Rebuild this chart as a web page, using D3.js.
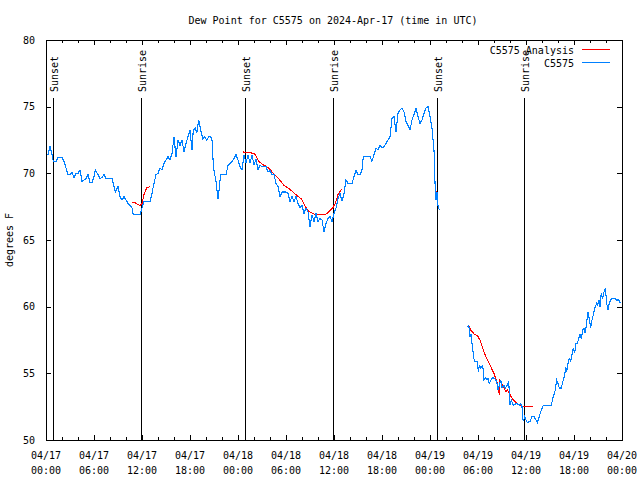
<!DOCTYPE html>
<html><head><meta charset="utf-8">
<script src="https://cdn.jsdelivr.net/npm/d3@7"></script>
<style>
html,body{margin:0;padding:0;background:#fff;}
text{font-family:"DejaVu Sans Mono",monospace;font-size:10px;fill:#000;}
</style></head>
<body><svg id="c" width="640" height="480"></svg>
<script>
// ---- data (hours since 2024-04-17 00:00 UTC) ----
const title = "Dew Point for C5575 on 2024-Apr-17 (time in UTC)";
const yLabel = "degrees F";
const seriesNames = ["C5575 Analysis", "C5575"];
const yTicks = [50, 55, 60, 65, 70, 75, 80];
const xTickHours = [0, 6, 12, 18, 24, 30, 36, 42, 48, 54, 60, 66, 72];
const xTickDates = ["04/17","04/17","04/17","04/17","04/18","04/18","04/18","04/18","04/19","04/19","04/19","04/19","04/20"];
const xTickTimes = ["00:00","06:00","12:00","18:00","00:00","06:00","12:00","18:00","00:00","06:00","12:00","18:00","00:00"];
const xMinorHours = [2,4,8,10,14,16,20,22,26,28,32,34,38,40,44,46,50,52,56,58,62,64,68,70];
const sunHours = [0.875, 11.875, 24.875, 35.92, 48.92, 59.79];
const sunLabels = ["Sunset","Sunrise","Sunset","Sunrise","Sunset","Sunrise"];

const obsHours = [0.25,0.5,0.75,0.91,1.25,1.5,2.0,2.25,2.5,2.75,3.0,3.25,3.5,3.75,4.0,4.25,4.5,4.75,5.0,5.25,5.5,5.75,6.0,6.16,6.5,6.75,7.0,7.25,7.5,8.25,8.5,8.66,9.0,9.25,9.5,9.75,10.0,10.25,10.5,10.75,10.91,11.75,12.0,12.25,13.0,13.25,13.41,13.75,14.0,14.25,14.5,14.75,15.0,15.25,15.5,15.75,16.0,16.25,16.5,16.75,17.0,17.25,17.5,17.75,18.0,18.25,18.41,18.66,18.84,19.09,19.34,19.59,19.84,20.09,20.34,20.59,20.75,20.88,21.0,21.25,21.5,21.69,21.81,22.5,22.75,23.0,23.25,23.5,23.75,24.0,24.25,24.5,24.75,25.0,25.25,25.5,25.75,26.0,26.25,26.5,26.75,27.0,27.5,27.75,28.0,28.25,28.5,28.75,29.0,29.25,29.5,30.0,30.25,30.5,30.75,31.0,31.25,31.5,31.75,32.0,32.25,32.5,32.75,33.0,33.25,33.5,33.75,34.0,34.25,34.5,34.75,35.0,35.25,35.5,35.75,36.0,36.25,36.5,36.75,37.0,37.25,37.5,37.75,38.25,38.5,38.75,39.0,39.25,39.5,39.66,40.5,40.75,41.0,41.25,41.5,41.75,42.0,42.25,42.5,42.75,43.0,43.25,43.5,43.75,44.0,44.25,44.5,44.75,45.0,45.25,45.5,45.75,46.0,46.25,46.5,46.75,47.0,47.25,47.5,47.75,48.0,48.25,48.5,48.63,48.75,48.88,49.0,49.16,
  50.5,
  52.71,52.84,53.0,53.13,53.25,53.41,53.54,53.91,54.04,54.16,54.34,54.59,54.75,54.91,55.13,55.25,55.41,55.63,55.84,56.09,56.34,56.5,56.66,56.84,57.0,57.25,57.41,57.66,57.84,58.0,58.16,58.41,58.84,59.16,59.34,59.5,59.59,59.66,59.84,60.0,60.16,60.5,60.75,61.0,61.25,61.41,61.66,61.91,62.16,63.16,63.34,63.5,63.66,63.84,64.0,64.16,64.41,64.66,64.84,64.96,65.09,65.25,65.41,65.59,65.75,65.91,66.09,66.25,66.41,66.59,66.75,66.91,67.09,67.25,67.41,67.59,67.75,67.91,68.09,68.25,68.41,68.59,68.84,68.91,69.16,69.25,69.41,69.59,69.75,69.91,70.09,70.25,70.41,70.66,71.16,71.34,71.59,71.75,71.88];
const obsValues = [71.4,72.05,71.4,70.9,70.9,71.2,71.2,70.9,70.4,69.9,69.9,70.1,69.65,70.0,70.0,70.25,69.4,69.5,69.6,69.9,69.3,69.3,69.75,70.25,69.9,69.6,69.7,69.9,69.6,69.6,69.0,68.6,69.0,68.25,68.0,68.25,68.0,67.75,67.6,67.4,66.9,66.9,67.4,67.9,67.9,68.5,69.0,69.9,70.0,70.4,70.25,70.75,71.0,71.25,71.0,71.5,72.75,71.25,72.5,72.1,72.5,71.6,72.25,72.75,73.25,71.75,73.25,73.4,73.0,74.0,73.25,72.6,72.75,72.5,72.75,72.75,72.5,71.0,70.2,69.4,68.1,69.0,69.9,69.9,70.6,70.75,70.9,71.1,71.4,71.0,70.5,70.25,71.4,70.75,71.4,70.75,71.4,70.6,71.1,70.25,70.6,70.5,70.5,70.1,70.2,69.9,69.9,69.25,69.0,68.25,68.6,68.6,68.5,67.9,68.25,67.9,68.25,67.75,67.4,67.6,67.0,67.4,67.1,66.0,66.9,66.4,67.0,66.4,66.6,66.5,65.6,66.25,66.6,66.75,66.4,67.0,67.4,68.1,68.5,67.9,68.5,69.5,69.25,69.25,69.75,70.25,69.9,69.9,70.25,71.25,71.25,70.9,71.4,71.9,71.75,72.1,71.9,72.0,72.25,72.5,72.75,74.1,74.25,73.1,74.5,74.75,74.9,74.6,73.9,73.6,73.25,74.0,74.4,74.9,74.25,73.75,74.0,74.5,74.9,75.0,74.25,73.4,71.75,69.25,68.0,68.6,67.6,67.25,
  null,
  58.5,58.6,57.75,57.9,57.25,56.5,55.9,55.9,55.1,55.6,55.4,55.6,54.5,54.7,54.5,54.6,54.25,54.5,54.7,54.6,54.4,53.75,54.1,54.5,53.9,54.1,53.9,54.1,54.4,52.6,53.0,52.6,52.75,52.6,52.75,52.5,51.75,51.4,51.75,51.5,51.3,51.4,51.75,51.75,51.5,51.3,51.75,52.25,52.6,52.6,53.1,53.4,53.75,54.5,54.25,53.9,53.9,54.5,54.9,55.5,55.1,55.75,56.1,55.9,56.4,56.9,56.5,57.25,57.25,57.6,57.9,57.6,58.25,58.4,58.0,58.9,59.6,59.1,58.4,59.0,59.4,59.9,60.25,60.1,60.5,60.0,61.0,60.6,61.1,61.4,60.25,59.75,60.25,60.6,60.6,60.5,60.5,60.3,60.3];

const anaHours = [10.75,11.13,11.34,11.75,12.0,12.25,12.59,13.0,
  13.5,
  24.66,26.0,26.25,26.59,27.0,27.84,28.41,29.09,29.75,30.59,31.25,31.96,32.41,32.84,33.66,34.91,35.34,35.84,36.16,36.5,36.91,
  40.0,
  48.84,48.91,
  50.0,
  52.84,53.09,53.59,53.91,54.25,54.66,55.09,55.59,56.0,56.34,56.59,56.66,56.75,57.16,57.5,57.66,58.0,58.41,58.84,59.5,59.84,60.91];
const anaValues = [67.8,67.8,67.7,67.6,67.75,68.4,68.9,69.0,
  null,
  71.6,71.5,71.3,70.9,70.7,70.4,70.0,69.6,69.1,68.75,68.4,68.05,67.5,67.15,66.9,66.9,67.1,67.4,67.75,68.4,68.8,
  null,
  68.7,68.5,
  null,
  58.55,58.25,57.9,57.85,57.5,56.75,56.1,55.5,55.0,54.4,53.75,53.4,54.5,54.0,53.6,53.75,53.4,53.0,52.75,52.55,52.5,52.5];

const colors = ["#ff0000", "#0080ff"];

// ---- drawing ----
const svg = d3.select("#c");
const L = 46, R = 622, T = 40, B = 440;
const x = d3.scaleLinear().domain([0, 72]).range([L, R]);
const y = d3.scaleLinear().domain([50, 80]).range([B, T]);

svg.append("rect").attr("width",640).attr("height",480).attr("fill","#fff");

svg.append("text").attr("x", 333).attr("y", 24).attr("text-anchor","middle").text(title);
svg.append("text").attr("transform","translate(13,240) rotate(-90)").attr("text-anchor","middle").text(yLabel);

function styleAxis(g){ g.select(".domain").remove(); g.selectAll("line").attr("stroke","#000").attr("shape-rendering","crispEdges"); }

// left/right y axes
svg.append("g").attr("transform",`translate(${L},0)`)
  .call(d3.axisLeft(y).tickValues(yTicks).tickSize(-5).tickPadding(11).tickFormat(d3.format("d")))
  .call(styleAxis).selectAll("text").style("font-family","DejaVu Sans Mono").style("font-size","10px");
svg.append("g").attr("transform",`translate(${R},0)`)
  .call(d3.axisRight(y).tickValues(yTicks).tickSize(-5).tickFormat(""))
  .call(styleAxis);
// bottom/top x axes major + minor
svg.append("g").attr("transform",`translate(0,${B})`)
  .call(d3.axisBottom(x).tickValues(xTickHours).tickSize(-5).tickFormat("")).call(styleAxis);
svg.append("g").attr("transform",`translate(0,${B})`)
  .call(d3.axisBottom(x).tickValues(xMinorHours).tickSize(-3).tickFormat("")).call(styleAxis);
svg.append("g").attr("transform",`translate(0,${T})`)
  .call(d3.axisTop(x).tickValues(xTickHours).tickSize(-5).tickFormat("")).call(styleAxis);
svg.append("g").attr("transform",`translate(0,${T})`)
  .call(d3.axisTop(x).tickValues(xMinorHours).tickSize(-3).tickFormat("")).call(styleAxis);

// x tick labels (two lines)
const xl = svg.append("g").selectAll("text").data(xTickHours).join("text")
  .attr("x", d => x(d)).attr("text-anchor","middle");
xl.append("tspan").attr("x", d => x(d)).attr("y", 459).text((d,i) => xTickDates[i]);
xl.append("tspan").attr("x", d => x(d)).attr("y", 474).text((d,i) => xTickTimes[i]);

// sunrise/sunset lines
const sun = svg.append("g");
sun.selectAll("line").data(sunHours).join("line")
  .attr("x1", d => Math.round(x(d)) + 0.5).attr("x2", d => Math.round(x(d)) + 0.5)
  .attr("y1", 98).attr("y2", B).attr("stroke","#000").attr("stroke-width",1)
  .attr("shape-rendering","crispEdges");
sun.selectAll("text").data(sunHours).join("text")
  .attr("transform", d => `translate(${Math.round(x(d)) + 1},92) rotate(-90)`)
  .attr("text-anchor","start").attr("dy","0.35em").text((d,i) => sunLabels[i]);

// series
const line = d3.line().defined(d => d[1] != null).x(d => x(d[0])).y(d => y(d[1]));
const anaData = anaHours.map((h,i) => [h, anaValues[i]]);
const obsData = obsHours.map((h,i) => [h, obsValues[i]]);
svg.append("path").datum(anaData).attr("d", line).attr("fill","none").attr("stroke",colors[0])
  .attr("stroke-width",1.1).attr("shape-rendering","crispEdges");
svg.append("path").datum(obsData).attr("d", line).attr("fill","none").attr("stroke",colors[1])
  .attr("stroke-width",1.1).attr("shape-rendering","crispEdges");

// frame
svg.append("rect").attr("x",L+0.5).attr("y",T+0.5).attr("width",R-L).attr("height",B-T)
  .attr("fill","none").attr("stroke","#000").attr("shape-rendering","crispEdges");

// legend
const leg = svg.append("g");
seriesNames.forEach((n,i) => {
  const yy = 50 + i*13;
  leg.append("text").attr("x", 574).attr("y", yy).attr("dy","0.35em").attr("text-anchor","end").text(n);
  leg.append("line").attr("x1",582).attr("x2",610).attr("y1",yy-0.5).attr("y2",yy-0.5)
    .attr("stroke",colors[i]).attr("stroke-width",1).attr("shape-rendering","crispEdges");
});
</script></body></html>
